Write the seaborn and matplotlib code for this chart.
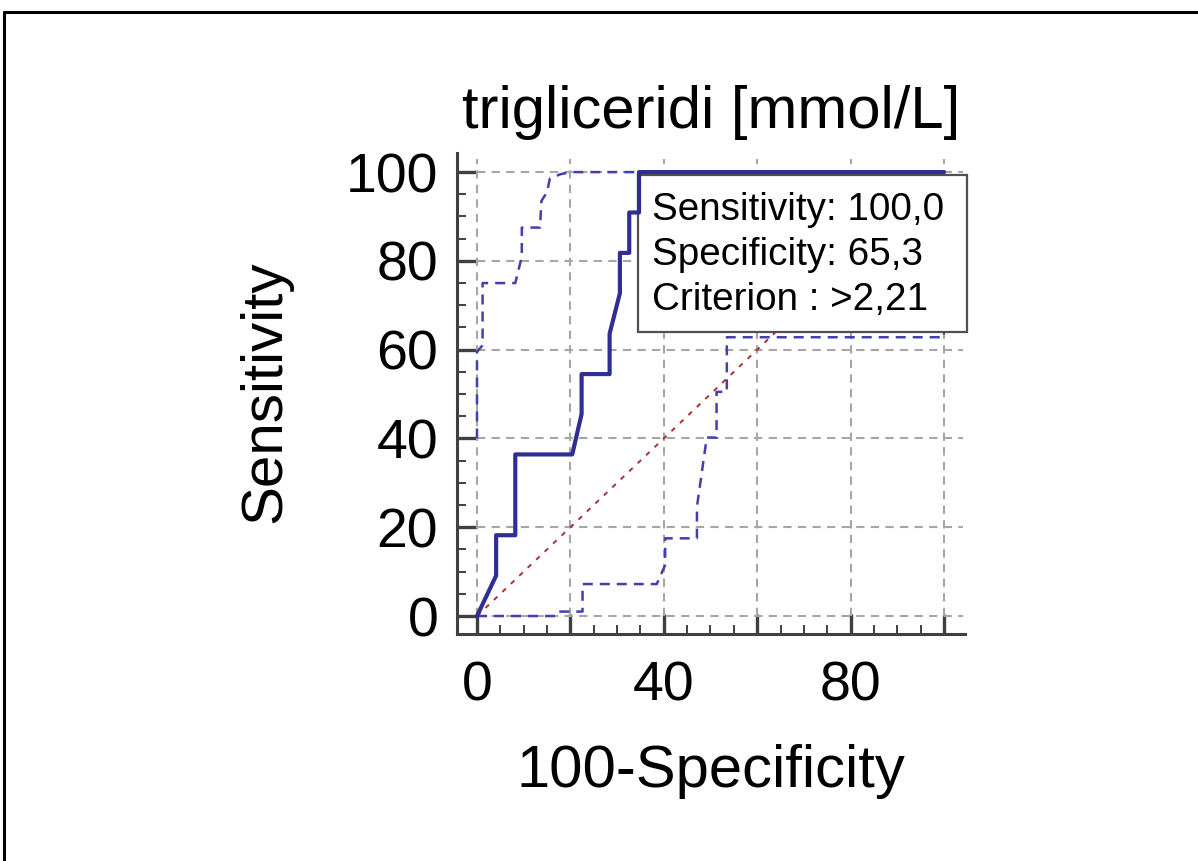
import numpy as np
import pandas as pd
import matplotlib
matplotlib.use("Agg")
import matplotlib.pyplot as plt
from matplotlib.lines import Line2D
from matplotlib.patches import Rectangle
from matplotlib.ticker import FixedLocator
import seaborn as sns

# ---------------- data ----------------
title = "trigliceridi [mmol/L]"
x_label = "100-Specificity"
y_label = "Sensitivity"

roc_x = [0, 4.1, 4.1, 8.2, 8.2, 20.4, 22.4, 22.4, 28.4, 28.4, 30.6, 30.6, 32.6, 32.6, 34.7, 34.7, 100]
roc_y = [0, 9.1, 18.2, 18.2, 36.4, 36.4, 45.5, 54.5, 54.5, 63.6, 72.7, 81.8, 81.8, 90.9, 90.9, 100, 100]

upper_x = [0, 0, 1.2, 1.2, 8.2, 9.6, 9.6, 13.5, 13.8, 15.0, 15.6, 17.8, 20.0, 100]
upper_y = [40, 59.5, 61, 75, 75, 81, 87.5, 87.5, 93.5, 95.5, 98.5, 99.5, 100, 100]

lower_x = [0, 17.1, 17.6, 22.6, 22.6, 38.5, 40.3, 40.3, 47.1, 47.1, 49.2, 51.3, 51.3, 53.5, 53.5, 100, 100]
lower_y = [0, 0, 1.0, 1.0, 7.2, 7.2, 11.5, 17.5, 17.5, 24.6, 40.2, 40.2, 50.5, 50.5, 62.8, 62.8, 100]

diag_x = [0, 100]
diag_y = [0, 100]

major_ticks = [0, 20, 40, 60, 80, 100]
x_tick_labels = ["0", "", "40", "", "80", ""]
y_tick_labels = ["0", "20", "40", "60", "80", "100"]

box_lines = ["Sensitivity: 100,0", "Specificity: 65,3", "Criterion : >2,21"]

# ---------------- style ----------------
sns.set_style("white")
plt.rcParams["font.family"] = ["Liberation Sans", "DejaVu Sans"]

W, H = 1198, 861
fig = plt.figure(figsize=(W / 100, H / 100), dpi=100)
fig.patch.set_facecolor("white")

# outer frame (top and left edges visible)
fig.add_artist(Line2D([4 / W, 4 / W], [0, 1 - 12 / H], color="black", lw=2.2))
fig.add_artist(Line2D([4 / W, 1], [1 - 12 / H, 1 - 12 / H], color="black", lw=2.2))

ax = fig.add_axes([457 / W, 1 - 634 / H, (965 - 457) / W, (634 - 153) / H])
ax.set_facecolor("white")

ROC_C = "#2E2E94"
BAND_C = "#4040AE"
DIAG_C = "#A83232"
GRID_C = "#A6A6A6"
AX_C = "#404040"

# grid (dashed)
for g in major_ticks:
    ax.plot([g, g], [0, 103], color=GRID_C, lw=1.5, ls=(0, (4, 3)), zorder=1)
    ax.plot([0, 104], [g, g], color=GRID_C, lw=1.5, ls=(0, (4, 3)), zorder=1)

roc_df = pd.DataFrame({"x": roc_x, "y": roc_y})
up_df = pd.DataFrame({"x": upper_x, "y": upper_y})
lo_df = pd.DataFrame({"x": lower_x, "y": lower_y})
dg_df = pd.DataFrame({"x": diag_x, "y": diag_y})

sns.lineplot(data=dg_df, x="x", y="y", sort=False, estimator=None, ax=ax,
             color=DIAG_C, lw=1.4, zorder=2)
ax.lines[-1].set_dashes([2.5, 3.5])
sns.lineplot(data=up_df, x="x", y="y", sort=False, estimator=None, ax=ax,
             color=BAND_C, lw=1.8, zorder=3)
ax.lines[-1].set_dashes([4, 2.8])
sns.lineplot(data=lo_df, x="x", y="y", sort=False, estimator=None, ax=ax,
             color=BAND_C, lw=1.8, zorder=3)
ax.lines[-1].set_dashes([4, 2.8])
sns.lineplot(data=roc_df, x="x", y="y", sort=False, estimator=None, ax=ax,
             color=ROC_C, lw=3.0, zorder=7)
for ln in ax.lines:
    ln.set_clip_on(False)

ax.set_xlim(-4.28, 104.5)
ax.set_ylim(-4.05, 104.3)

# spines
for s in ["top", "right"]:
    ax.spines[s].set_visible(False)
for s in ["left", "bottom"]:
    ax.spines[s].set_color(AX_C)
    ax.spines[s].set_linewidth(2.2)

ax.xaxis.set_major_locator(FixedLocator(major_ticks))
ax.yaxis.set_major_locator(FixedLocator(major_ticks))
ax.set_xticklabels(x_tick_labels)
ax.set_yticklabels(y_tick_labels)
minor = [v for v in range(0, 101, 5) if v % 20]
ax.xaxis.set_minor_locator(FixedLocator(minor))
ax.yaxis.set_minor_locator(FixedLocator(minor))
ax.tick_params(which="both", bottom=True, left=True, top=False, right=False)
ax.tick_params(which="major", direction="in", length=14.4, width=2.4, color=AX_C,
               labelsize=40, labelcolor="black")
ax.tick_params(axis="y", which="major", pad=13.5)
ax.tick_params(axis="x", which="major", pad=19)
ax.tick_params(which="minor", direction="in", length=6.5, width=1.4, color=AX_C)

ax.set_title(title, fontsize=43, pad=18.0, color="black")
ax.set_xlabel(x_label, fontsize=43, color="black")
ax.set_ylabel(y_label, fontsize=42, color="black")
ax.xaxis.label.set_va("baseline")
ax.yaxis.label.set_va("baseline")
ax.xaxis.set_label_coords((711 - 457) / 508, (634 - 787) / 481)
ax.yaxis.set_label_coords((280 - 457) / 508, (634 - 392) / 481)

# info box
bx0, bx1 = (638 - 457) / 508, (967 - 457) / 508
by0, by1 = (634 - 332) / 481, (634 - 175) / 481
ax.add_patch(Rectangle((bx0, by0), bx1 - bx0, by1 - by0, transform=ax.transAxes,
                       facecolor="white", edgecolor="#505050", lw=1.6, zorder=6,
                       clip_on=False))
baselines = [220, 265, 310]
for txt, bl in zip(box_lines, baselines):
    ax.text((652 - 457) / 508, (634 - bl) / 481, txt, transform=ax.transAxes,
            ha="left", va="baseline", fontsize=27.8, color="black", zorder=8)

fig.savefig("out.png", dpi=100, facecolor="white")
